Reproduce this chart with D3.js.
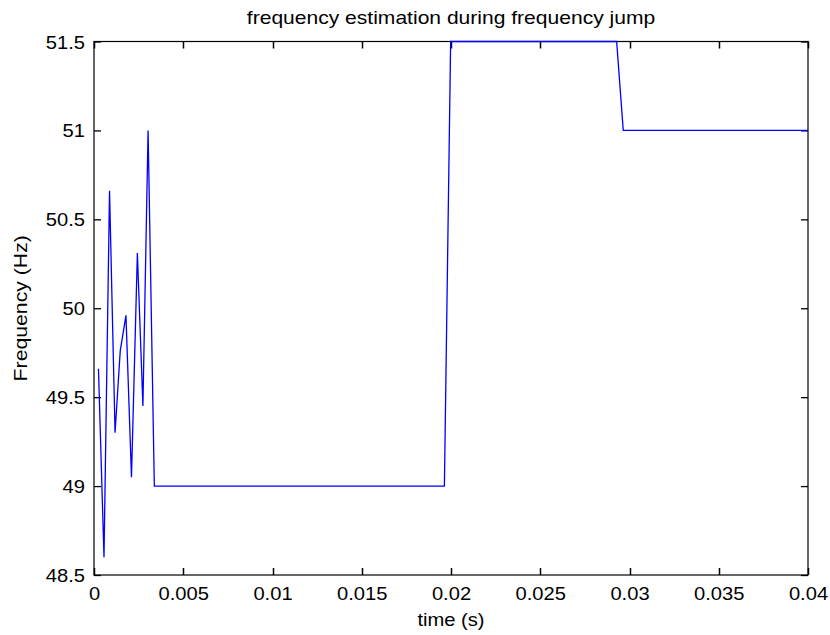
<!DOCTYPE html>
<html>
<head>
<meta charset="utf-8">
<script src="https://cdn.jsdelivr.net/npm/d3@7"></script>
<style>
  html, body { margin: 0; padding: 0; background: #fff; }
  svg { display: block; }
</style>
</head>
<body>
<svg id="chart" width="830" height="635"></svg>
<script>
// Estimated frequency trace (time in seconds, frequency in Hz)
const timeS = [0.00025, 0.00056, 0.00087, 0.00118, 0.00147, 0.00179, 0.00210, 0.00243, 0.00274, 0.00303, 0.00338,
               0.01963, 0.01998, 0.02928, 0.02965, 0.04];
const freqHz = [49.66, 48.60, 50.66, 49.30, 49.76, 49.96, 49.05, 50.31, 49.45, 51.00, 49.00,
                49.00, 51.50, 51.50, 51.00, 51.00];

const xTicks = [0, 0.005, 0.01, 0.015, 0.02, 0.025, 0.03, 0.035, 0.04];
const xTickLabels = ["0", "0.005", "0.01", "0.015", "0.02", "0.025", "0.03", "0.035", "0.04"];
const yTicks = [48.5, 49, 49.5, 50, 50.5, 51, 51.5];
const yTickLabels = ["48.5", "49", "49.5", "50", "50.5", "51", "51.5"];

const titleText = "frequency estimation during frequency jump";
const xLabelText = "time (s)";
const yLabelText = "Frequency (Hz)";

const L = 94, R = 808, T = 41.5, B = 575;
const tickLen = 7;
const fontSize = 18;
const stretch = 1.12;
const fontFamily = "'Liberation Sans', Arial, sans-serif";

const svg = d3.select("#chart");

const xScale = d3.scaleLinear().domain([0, 0.04]).range([L, R]);
const yScale = d3.scaleLinear().domain([48.5, 51.5]).range([B, T]);

// x tick labels
const gxLabels = svg.append("g").attr("transform", `translate(0,${B})`)
  .call(d3.axisBottom(xScale).tickValues(xTicks).tickFormat((d, i) => xTickLabels[i])
    .tickSize(0).tickPadding(12));
gxLabels.select(".domain").remove();
gxLabels.selectAll(".tick line").remove();
gxLabels.selectAll(".tick text")
  .attr("font-size", fontSize).attr("font-family", fontFamily).attr("fill", "#000")
  .attr("dy", null).attr("y", 25).attr("x", 0)
  .attr("transform", `scale(${stretch},1)`);

// left axis: inward ticks plus labels
const gy = svg.append("g").attr("transform", `translate(${L},0)`)
  .call(d3.axisLeft(yScale).tickValues(yTicks).tickFormat((d, i) => yTickLabels[i])
    .tickSizeInner(-tickLen).tickSizeOuter(0).tickPadding(9));
gy.select(".domain").remove();
gy.selectAll(".tick line").attr("stroke", "#000").attr("stroke-width", 1.3);
gy.selectAll(".tick text")
  .attr("font-size", fontSize).attr("font-family", fontFamily).attr("fill", "#000")
  .attr("dy", null).attr("y", 6.5).attr("x", -9)
  .attr("transform", `translate(-9,0) scale(${stretch},1) translate(9,0)`);

// right axis: inward ticks only
const gyr = svg.append("g").attr("transform", `translate(${R},0)`)
  .call(d3.axisRight(yScale).tickValues(yTicks).tickFormat(() => "")
    .tickSizeInner(-tickLen).tickSizeOuter(0));
gyr.select(".domain").remove();
gyr.selectAll(".tick line").attr("stroke", "#000").attr("stroke-width", 1.3);

// inward x tick marks on the bottom and top edges, positioned by the x scale
const xTickMarks = svg.append("g").attr("class", "x-tick-marks")
  .attr("stroke", "#000").attr("stroke-width", 1.5);
xTickMarks.selectAll("line.bottom")
  .data(xTicks)
  .join("line")
  .attr("class", "bottom")
  .attr("x1", (d) => Math.round(xScale(d)) + 0.5)
  .attr("x2", (d) => Math.round(xScale(d)) + 0.5)
  .attr("y1", B)
  .attr("y2", B - tickLen);
xTickMarks.selectAll("line.top")
  .data(xTicks)
  .join("line")
  .attr("class", "top")
  .attr("x1", (d) => Math.round(xScale(d)) + 0.5)
  .attr("x2", (d) => Math.round(xScale(d)) + 0.5)
  .attr("y1", T)
  .attr("y2", T + tickLen);

// plot box
svg.append("rect")
  .attr("x", L).attr("y", T).attr("width", R - L).attr("height", B - T)
  .attr("fill", "none").attr("stroke", "#000").attr("stroke-width", 1.2);

// frequency trace
const line = d3.line().x((d, i) => xScale(timeS[i])).y((d) => yScale(d));
svg.append("path")
  .datum(freqHz)
  .attr("d", line)
  .attr("fill", "none")
  .attr("stroke", "#0000ff")
  .attr("stroke-width", 1.3);

// title and axis labels
const cx = (L + R) / 2;
const cy = (T + B) / 2;
svg.append("text").attr("x", cx).attr("y", 24).attr("text-anchor", "middle")
  .attr("font-size", fontSize).attr("font-family", fontFamily).text(titleText)
  .attr("transform", `translate(${cx},0) scale(1.17,1) translate(${-cx},0)`);
svg.append("text").attr("x", cx).attr("y", 626).attr("text-anchor", "middle")
  .attr("font-size", fontSize).attr("font-family", fontFamily).text(xLabelText)
  .attr("transform", `translate(${cx},0) scale(${stretch},1) translate(${-cx},0)`);
svg.append("text")
  .attr("text-anchor", "middle")
  .attr("transform", `translate(27,${cy}) rotate(-90) scale(1.18,1)`)
  .attr("font-size", fontSize).attr("font-family", fontFamily).text(yLabelText);
</script>
</body>
</html>
